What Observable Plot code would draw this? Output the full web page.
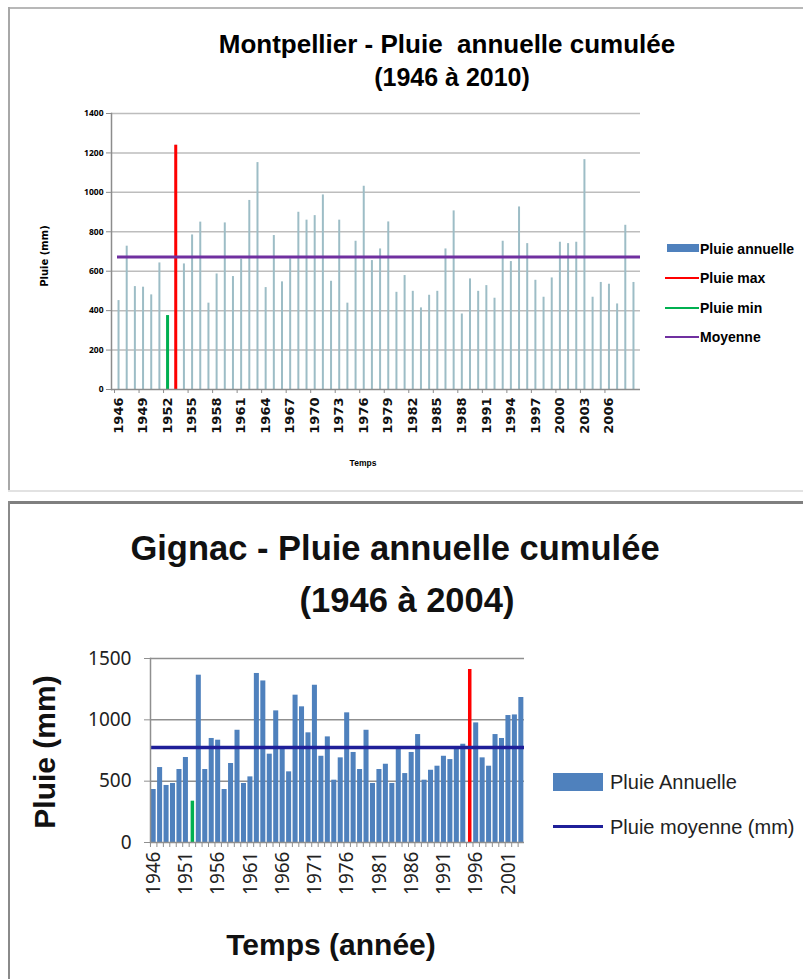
<!DOCTYPE html>
<html><head><meta charset="utf-8">
<script src="https://cdn.jsdelivr.net/npm/d3@7"></script>
<script src="https://cdn.jsdelivr.net/npm/@observablehq/plot@0.6"></script>
<style>
body{margin:0;background:#fff;}
#root{position:relative;width:803px;height:979px;overflow:hidden;background:#fff;font-family:"Liberation Sans",Arial,sans-serif;color:#000;}
.t{position:absolute;white-space:nowrap;line-height:1;transform:translate(-50%,-50%);}
.l{position:absolute;white-space:nowrap;line-height:1;transform:translate(0,-50%);}
.abs{position:absolute;}
.rot{position:absolute;white-space:nowrap;line-height:1;transform:translate(-50%,-50%) rotate(-90deg);}
</style></head><body><div id="root"></div>
<script>
// ---------- Montpellier data ----------
const montYears = [1946,1947,1948,1949,1950,1951,1952,1953,1954,1955,1956,1957,1958,1959,1960,1961,1962,1963,1964,1965,1966,1967,1968,1969,1970,1971,1972,1973,1974,1975,1976,1977,1978,1979,1980,1981,1982,1983,1984,1985,1986,1987,1988,1989,1990,1991,1992,1993,1994,1995,1996,1997,1998,1999,2000,2001,2002,2003,2004,2005,2006,2007,2008,2009];
const montRain = [451,727,522,519,480,642,375,1239,637,784,849,438,586,845,573,661,959,1151,517,781,546,663,899,859,882,987,549,859,438,752,1031,654,713,850,493,578,498,414,478,498,713,906,383,561,498,527,463,752,649,926,740,554,468,566,747,740,747,1166,468,543,534,434,833,543];
const montMean = 672;
const montMaxYear = 1953;
const montMinYear = 1952;
const montTickYears = [1946,1949,1952,1955,1958,1961,1964,1967,1970,1973,1976,1979,1982,1985,1988,1991,1994,1997,2000,2003,2006];
const montYTicks = [0,200,400,600,800,1000,1200,1400];

// ---------- Gignac data ----------
const gigYears = [1946,1947,1948,1949,1950,1951,1952,1953,1954,1955,1956,1957,1958,1959,1960,1961,1962,1963,1964,1965,1966,1967,1968,1969,1970,1971,1972,1973,1974,1975,1976,1977,1978,1979,1980,1981,1982,1983,1984,1985,1986,1987,1988,1989,1990,1991,1992,1993,1994,1995,1996,1997,1998,1999,2000,2001,2002,2003];
const gigRain = [432,611,465,481,595,693,337,1364,595,848,834,432,644,915,481,535,1378,1317,720,1073,760,576,1201,1106,894,1282,703,861,508,690,1057,734,595,915,481,595,638,481,766,562,734,880,508,589,622,703,676,766,801,1410,975,690,622,880,848,1035,1040,1182];
const gigMean = 774;
const gigMaxYear = 1995;
const gigMinYear = 1952;
const gigTickYears = [1946,1951,1956,1961,1966,1971,1976,1981,1986,1991,1996,2001];
const gigYTicks = [0,500,1000,1500];

const mont = montYears.map((year, i) => ({year, rain: montRain[i]}));
const gig = gigYears.map((year, i) => ({year, rain: gigRain[i]}));

const root = document.getElementById("root");
function add(html) { root.insertAdjacentHTML("beforeend", html); }

// frames
add(`<div class="abs" style="left:8px;top:7px;width:800px;height:2px;background:#b8b8b8"></div>`);
add(`<div class="abs" style="left:8px;top:7px;width:2px;height:485px;background:#a8a8a8"></div>`);
add(`<div class="abs" style="left:8px;top:490px;width:800px;height:2px;background:#e2e2e2"></div>`);
add(`<div class="abs" style="left:8px;top:501px;width:800px;height:3px;background:#7f7f7f"></div>`);
add(`<div class="abs" style="left:8px;top:501px;width:2px;height:480px;background:#8a8a8a"></div>`);

// ---------- Montpellier chart ----------
const axisGray = "#8c8c8c";
const p1 = Plot.plot({
  width: 660, height: 480,
  marginLeft: 111, marginRight: 20, marginTop: 113, marginBottom: 91,
  style: {background: "transparent", overflow: "visible"},
  x: {type: "point", domain: montYears, padding: 0.86, round: false, axis: null},
  y: {domain: [0, 1400], axis: null},
  marks: [
    Plot.ruleY(montYTicks.filter(d => d > 0), {stroke: "#bdbdbd", strokeWidth: 1.5}),
    Plot.ruleX(mont, {x: "year", y1: 0, y2: "rain", stroke: "#9dbdc6", strokeWidth: 2}),
    Plot.ruleX(mont.filter(d => d.year === montMinYear), {x: "year", y1: 0, y2: "rain", stroke: "#00b050", strokeWidth: 3}),
    Plot.ruleX(mont.filter(d => d.year === montMaxYear), {x: "year", y1: 0, y2: "rain", stroke: "#ff0000", strokeWidth: 3}),
    Plot.ruleY([montMean], {stroke: "#7030a0", strokeWidth: 3, insetLeft: 6}),
    Plot.ruleY([0], {stroke: axisGray, strokeWidth: 1.5}),
    Plot.frame({anchor: "left", stroke: axisGray, strokeWidth: 1.5}),
    Plot.axisY({ticks: montYTicks, tickFormat: d => String(d), tickSize: 5, tickPadding: 3, fontSize: 8.5, fontWeight: "bold", stroke: axisGray, fill: "#000", label: null}),
    Plot.axisX({ticks: montTickYears, tickSize: 4, tickFormat: () => "", stroke: axisGray, dx: -4, label: null}),
    Plot.text(montTickYears, {x: d => d, text: d => String(d), frameAnchor: "bottom", rotate: -90, textAnchor: "end", lineAnchor: "middle", dy: 8, fontSize: 13, fontFamily: "DejaVu Sans", fontWeight: "bold", fill: "#111"})
  ]
});
p1.style.position = "absolute"; p1.style.left = "0px"; p1.style.top = "0px";
root.appendChild(p1);

add(`<div class="t" style="left:447px;top:44px;font-size:26px;font-weight:bold">Montpellier - Pluie&nbsp; annuelle cumulée</div>`);
add(`<div class="t" style="left:452px;top:77px;font-size:25px;font-weight:bold">(1946 à 2010)</div>`);
add(`<div class="rot" style="left:45px;top:256px;font-size:10px;font-weight:bold;font-family:'DejaVu Sans'">Pluie (mm)</div>`);
add(`<div class="t" style="left:363px;top:463px;font-size:8.5px;font-weight:bold">Temps</div>`);

// Montpellier legend
add(`<div class="abs" style="left:667px;top:244px;width:32px;height:8px;background:#4f81bd"></div>`);
add(`<div class="l" style="left:700px;top:249px;font-size:14px;font-weight:bold">Pluie annuelle</div>`);
add(`<div class="abs" style="left:665px;top:277px;width:34px;height:2px;background:#ff0000"></div>`);
add(`<div class="l" style="left:700px;top:278px;font-size:14px;font-weight:bold">Pluie max</div>`);
add(`<div class="abs" style="left:665px;top:307px;width:34px;height:2px;background:#00b050"></div>`);
add(`<div class="l" style="left:700px;top:308px;font-size:14px;font-weight:bold">Pluie min</div>`);
add(`<div class="abs" style="left:665px;top:336px;width:34px;height:2px;background:#7030a0"></div>`);
add(`<div class="l" style="left:700px;top:337px;font-size:14px;font-weight:bold">Moyenne</div>`);

// ---------- Gignac chart ----------
const gGray = "#8f8f8f";
const p2 = Plot.plot({
  width: 540, height: 260,
  marginLeft: 150, marginRight: 16, marginTop: 18, marginBottom: 58,
  style: {background: "transparent", overflow: "visible"},
  x: {type: "band", domain: gigYears, paddingInner: 0.22, paddingOuter: 0.1, round: false, axis: null},
  y: {domain: [0, 1500], axis: null},
  marks: [
    Plot.ruleY(gigYTicks.filter(d => d > 0), {stroke: gGray, strokeWidth: 1.5}),
    Plot.barY(gig.filter(d => d.year !== gigMinYear && d.year !== gigMaxYear), {x: "year", y: "rain", fill: "#4f81bd"}),
    Plot.ruleX(gig.filter(d => d.year === gigMinYear), {x: "year", y1: 0, y2: "rain", stroke: "#00b050", strokeWidth: 3.5}),
    Plot.ruleX(gig.filter(d => d.year === gigMaxYear), {x: "year", y1: 0, y2: "rain", stroke: "#ff0000", strokeWidth: 3.5}),
    Plot.ruleY([gigMean], {stroke: "#1f1f99", strokeWidth: 3.5}),
    Plot.ruleY([0], {stroke: gGray, strokeWidth: 1.5}),
    Plot.frame({anchor: "left", stroke: gGray, strokeWidth: 1.5}),
    Plot.axisY({ticks: gigYTicks, tickFormat: d => String(d), tickSize: 6, tickPadding: 13, fontSize: 19, stroke: gGray, fill: "#222", label: null}),
    Plot.axisX({ticks: gigYears, tickSize: 5, tickFormat: () => "", stroke: gGray, dx: -3.2, label: null}),
    Plot.text(gigTickYears, {x: d => d, text: d => String(d), frameAnchor: "bottom", rotate: -90, textAnchor: "end", lineAnchor: "middle", dy: 9, fontSize: 19, fill: "#222"})
  ]
});
p2.style.position = "absolute"; p2.style.left = "0px"; p2.style.top = "640px";
root.appendChild(p2);

add(`<div class="t" style="left:395px;top:548px;font-size:34.5px;font-weight:bold;color:#111">Gignac - Pluie annuelle cumulée</div>`);
add(`<div class="t" style="left:407px;top:600px;font-size:34.5px;font-weight:bold;color:#111">(1946 à 2004)</div>`);
add(`<div class="rot" style="left:45px;top:752px;font-size:30px;font-weight:bold;color:#111">Pluie (mm)</div>`);
add(`<div class="t" style="left:331px;top:945px;font-size:30px;font-weight:bold;color:#111">Temps (année)</div>`);

// Gignac legend
add(`<div class="abs" style="left:553px;top:773px;width:50px;height:18px;background:#4f81bd"></div>`);
add(`<div class="l" style="left:610px;top:782px;font-size:20px;color:#222">Pluie Annuelle</div>`);
add(`<div class="abs" style="left:553px;top:825px;width:50px;height:3px;background:#1f1f99"></div>`);
add(`<div class="l" style="left:610px;top:827px;font-size:20px;color:#222">Pluie moyenne (mm)</div>`);
</script></body></html>
